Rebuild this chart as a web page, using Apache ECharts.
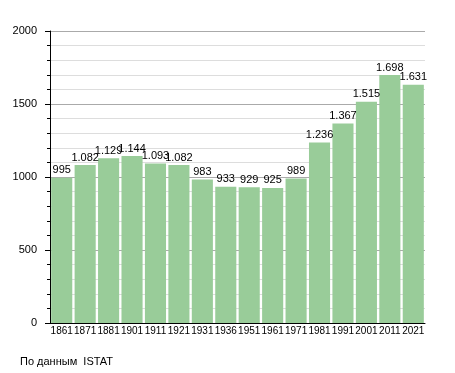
<!DOCTYPE html>
<html><head><meta charset="utf-8">
<script src="https://cdn.jsdelivr.net/npm/echarts@6/dist/echarts.min.js"></script>
<style>html,body{margin:0;padding:0;background:#fff}#c{width:455px;height:373px}</style>
</head><body><div id="c"></div>
<script>
var years = ['1861','1871','1881','1901','1911','1921','1931','1936','1951','1961','1971','1981','1991','2001','2011','2021'];
var population = [995,1082,1129,1144,1093,1082,983,933,929,925,989,1236,1367,1515,1698,1631];
var yTicks = [0,500,1000,1500,2000];
var sourceText = 'По данным  ISTAT';

function fmt(v){ var s=String(v); return s.length>3 ? s.slice(0,s.length-3)+'.'+s.slice(-3) : s; }

var chart = echarts.init(document.getElementById('c'), null, {renderer:'canvas'});
var font = 'Liberation Sans, Arial, sans-serif';
chart.setOption({
  animation:false,
  grid:{left:50,right:30,top:31,bottom:50,containLabel:false},
  xAxis:{type:'category',data:years,
    axisLine:{lineStyle:{color:'#000',width:1}},
    axisTick:{show:false},
    axisLabel:{color:'#000',fontFamily:font,fontSize:10,margin:3,interval:0,hideOverlap:false},
    splitLine:{show:false}},
  yAxis:{type:'value',min:yTicks[0],max:yTicks[yTicks.length-1],interval:500,
    axisLine:{show:true,lineStyle:{color:'#000',width:1}},
    axisTick:{show:true,length:5,inside:false,lineStyle:{color:'#000'}},
    minorTick:{show:true,splitNumber:5,length:3,lineStyle:{color:'#000'}},
    axisLabel:{color:'#000',fontFamily:font,fontSize:11,margin:13,formatter:function(v){return String(v);}},
    splitLine:{show:true,lineStyle:{color:'#aaaaaa',width:1}},
    minorSplitLine:{show:true,lineStyle:{color:'#dddddd',width:1}}},
  series:[{type:'bar',data:population,barCategoryGap:'10%',
    itemStyle:{color:'#99cc99'},
    label:{show:true,position:'top',distance:2,color:'#000',fontFamily:font,fontSize:11,
      formatter:function(p){return fmt(p.value);}}}],
  graphic:[{type:'text',left:20,top:356,style:{text:sourceText,fill:'#000',font:'11px Liberation Sans, Arial, sans-serif'}}]
});
</script></body></html>
